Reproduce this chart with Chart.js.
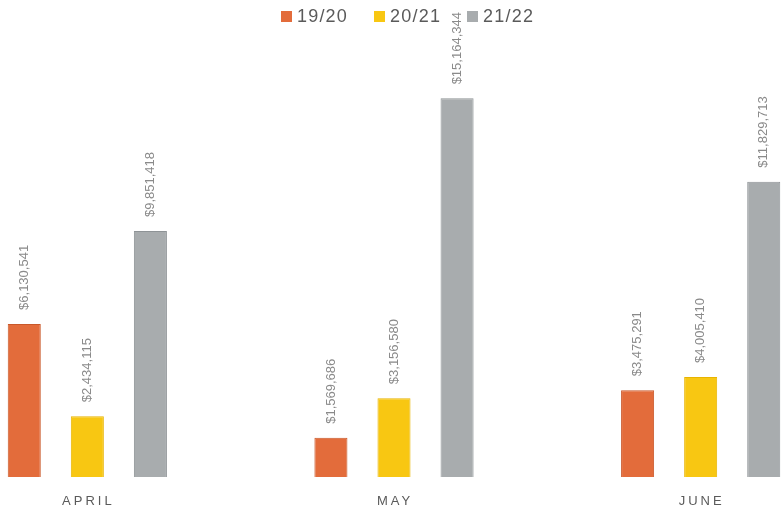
<!DOCTYPE html>
<html><head><meta charset="utf-8">
<script src="https://cdn.jsdelivr.net/npm/chart.js@4"></script>
<style>
html,body{margin:0;padding:0;background:#fff;overflow:hidden;width:781px;height:516px;}
#wrap{position:absolute;left:-66px;top:0;width:920px;height:516px;}
#legend{position:absolute;top:6px;left:281px;display:flex;align-items:center;font-family:"Liberation Sans",sans-serif;font-size:18px;color:#5a5a5a;letter-spacing:1.2px;}
#legend .it{display:flex;align-items:center;margin-right:26px;}
#legend .sw{width:11px;height:11px;margin-right:5px;}
</style></head>
<body>
<div id="wrap"><canvas id="c" width="920" height="516"></canvas></div>
<div id="legend"></div>
<script>
const categories = ["APRIL", "MAY", "JUNE"];
const seriesNames = ["19/20", "20/21", "21/22"];
const values1920 = [6130541, 1569686, 3475291];
const values2021 = [2434115, 3156580, 4005410];
const values2122 = [9851418, 15164344, 11829713];
const colors = ["#E36C3B", "#F8C712", "#A8ACAE"];
const borders = ["#C9582A", "#E8B400", "#8E9396"];

const lg = document.getElementById('legend');
seriesNames.forEach((n,i)=>{
  const d=document.createElement('div');d.className='it';
  const s=document.createElement('span');s.className='sw';s.style.background=colors[i];
  const t=document.createElement('span');t.textContent=n;
  d.appendChild(s);d.appendChild(t);lg.appendChild(d);
});

const fmt = v => '$' + v.toLocaleString('en-US');

const labelPlugin = {
  id:'vlabels',
  afterDatasetsDraw(chart){
    const ctx = chart.ctx;
    ctx.save();
    ctx.font = '13px "Liberation Sans", sans-serif';
    ctx.fillStyle = '#8a8a8a';
    ctx.textAlign = 'left';
    ctx.textBaseline = 'middle';
    chart.data.datasets.forEach((ds,di)=>{
      chart.getDatasetMeta(di).data.forEach((bar,i)=>{
        ctx.save();
        ctx.translate(bar.x, bar.y - 14);
        ctx.rotate(-Math.PI/2);
        ctx.fillText(fmt(ds.data[i]), 0, 0);
        ctx.restore();
      });
    });
    const xs = chart.scales.x;
    ctx.font = '13px "Liberation Sans", sans-serif';
    ctx.fillStyle = '#5a5a5a';
    ctx.textAlign = 'center';
    ctx.textBaseline = 'middle';
    try{ ctx.letterSpacing = '3px'; }catch(e){}
    categories.forEach((c,i)=>{
      ctx.fillText(c, xs.getPixelForValue(i)+1, 501);
    });
    ctx.restore();
  }
};

new Chart(document.getElementById('c'), {
  type:'bar',
  data:{
    labels: categories,
    datasets:[
      {label:seriesNames[0], data:values1920, backgroundColor:colors[0], borderColor:borders[0], borderWidth:1},
      {label:seriesNames[1], data:values2021, backgroundColor:colors[1], borderColor:borders[1], borderWidth:1},
      {label:seriesNames[2], data:values2122, backgroundColor:colors[2], borderColor:borders[2], borderWidth:1}
    ]
  },
  options:{
    responsive:false,
    animation:false,
    layout:{padding:{top:77.5,bottom:39,left:0,right:0}},
    datasets:{bar:{barPercentage:0.524, categoryPercentage:0.617}},
    plugins:{legend:{display:false}, tooltip:{enabled:false}},
    scales:{
      x:{display:false},
      y:{display:false, min:0, max:16000000}
    }
  },
  plugins:[labelPlugin]
});
</script>
</body></html>
